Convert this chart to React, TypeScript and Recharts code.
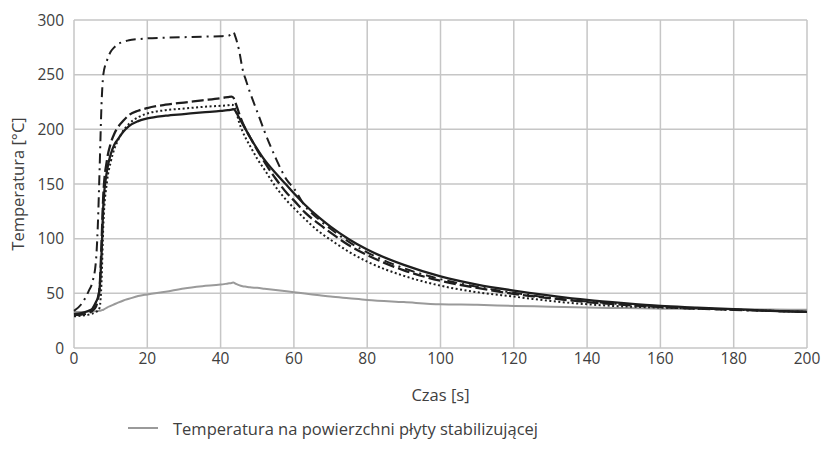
import React from "react";
import { LineChart, Line, XAxis, YAxis, CartesianGrid, Legend } from "recharts";

const time = [0, 2, 4, 5, 6, 6.5, 7, 7.5, 8, 9, 10, 11, 12, 13.5, 15, 17.5, 20, 25, 30, 35, 40, 42, 43, 43.5, 44, 45, 46, 47, 48, 50, 52, 55, 58, 60, 63, 67, 70, 75, 80, 90, 100, 110, 120, 130, 140, 150, 160, 170, 180, 190, 200];

const dashDot = [34, 40, 52, 60, 80, 112, 165, 222, 250, 263, 271, 275, 278, 280, 281.5, 282.5, 283.2, 283.8, 284.3, 284.8, 285.2, 285.5, 287.5, 289, 285, 273, 255, 244, 234, 216, 198, 174, 154, 146, 130, 117, 109, 97, 87.5, 73, 63, 56, 50.5, 46, 42.5, 40, 38, 36.5, 35, 34, 33];

const dashed = [30, 30.5, 32, 34, 38, 44, 56, 95, 140, 172, 187, 196, 202, 208, 213, 217, 219.5, 222.5, 224.5, 226.5, 228.5, 229.5, 230, 229, 225, 215, 206, 199, 193, 181, 170, 155, 142, 135, 124, 113, 105.5, 94, 85, 71, 61.5, 55, 49.5, 45.5, 42, 39.5, 37.5, 36, 35, 34, 33];

const dotted = [29, 29.5, 30.5, 31.5, 33, 34, 37, 60, 112, 152, 170, 182, 190, 199, 205, 211, 214.5, 217.5, 219, 220.5, 221.5, 222, 222.5, 222, 219, 207, 198, 191, 185, 173, 163, 147.5, 135, 128, 118, 106, 99, 88, 79, 66, 57, 51, 47, 43, 40, 38, 37, 36, 35, 34, 33];

const solid = [31, 32, 34, 36, 42, 46, 55, 85, 130, 162, 177, 186, 191, 198, 203, 207.5, 210, 212.5, 214, 215.5, 216.8, 217.5, 218, 218.5, 217, 211, 205, 199, 193, 182, 172, 160, 149, 141.5, 131, 119, 111, 99.5, 90, 76, 65.5, 58, 52.5, 48, 44, 41, 38.5, 37, 35.5, 34, 33];

const surface = [33, 33, 33.3, 33.5, 33.7, 33.8, 34, 34.5, 35, 37, 38.5, 40, 41.5, 43.5, 45, 47.5, 49, 51.5, 54.5, 56.5, 58, 59, 59.5, 59.8, 59, 57.5, 56.5, 56, 55.5, 55, 54.2, 53, 51.8, 51, 49.8, 48.2, 47, 45.5, 44, 42, 40, 39.5, 38.5, 37.8, 37, 36.5, 36, 35.7, 35.5, 35.2, 35];

const xTicks = [0, 20, 40, 60, 80, 100, 120, 140, 160, 180, 200];
const yTicks = [0, 50, 100, 150, 200, 250, 300];

const legendLabel = "Temperatura na powierzchni płyty stabilizującej";
const xTitle = "Czas [s]";
const yTitle = "Temperatura [°C]";

const data = time.map((t, i) => ({
  t,
  dashDot: dashDot[i],
  dashed: dashed[i],
  dotted: dotted[i],
  solid: solid[i],
  surface: surface[i],
}));

const FONT = "'Open Sans', Lato, sans-serif";
const FS = 16.5;
const TFS = 15.5;
const TEXT = "#404040";

const renderLegend = () => (
  <div
    style={{
      display: "flex",
      alignItems: "center",
      height: 24,
      fontFamily: FONT,
      fontSize: FS,
      color: TEXT,
      whiteSpace: "nowrap",
    }}
  >
    <svg width={30} height={6}>
      <line x1={0} y1={3} x2={30} y2={3} stroke="#9a9a9a" strokeWidth={2} />
    </svg>
    <span style={{ marginLeft: 15 }}>{legendLabel}</span>
  </div>
);

export default function App() {
  return (
    <div style={{ position: "fixed", left: 0, top: 0, width: 823, height: 459, background: "#fff" }}>
      <LineChart
        width={823}
        height={459}
        data={data}
        margin={{ top: 20, right: 16, bottom: 19, left: 0 }}
      >
        <CartesianGrid stroke="#c6c6c6" strokeWidth={1.5} />
        <XAxis
          dataKey="t"
          type="number"
          domain={[0, 200]}
          ticks={xTicks}
          interval={0}
          axisLine={false}
          tickLine={false}
          tickSize={4}
          tickMargin={1}
          height={68}
          tick={{ fill: TEXT, fontFamily: FONT, fontSize: TFS }}
          label={{
            value: xTitle,
            position: "insideBottom",
            offset: 15,
            fill: TEXT,
            fontFamily: FONT,
            fontSize: FS,
          }}
        />
        <YAxis
          type="number"
          domain={[0, 300]}
          ticks={yTicks}
          interval={0}
          axisLine={false}
          tickLine={false}
          tickSize={6}
          tickMargin={4}
          width={74}
          tick={{ fill: TEXT, fontFamily: FONT, fontSize: TFS }}
          label={{
            value: yTitle,
            angle: -90,
            position: "insideLeft",
            offset: 18,
            fill: TEXT,
            fontFamily: FONT,
            fontSize: FS,
            style: { textAnchor: "middle" },
          }}
        />
        <Legend
          verticalAlign="bottom"
          align="left"
          content={renderLegend}
          wrapperStyle={{ left: 128, width: "auto", height: 24 }}
        />
        <Line type="monotone" dataKey="surface" stroke="#9a9a9a" strokeWidth={2} dot={false} isAnimationActive={false} />
        <Line type="monotone" dataKey="dotted" stroke="#1e1e1e" strokeWidth={2} strokeDasharray="2 2.5" dot={false} legendType="none" isAnimationActive={false} />
        <Line type="monotone" dataKey="solid" stroke="#1e1e1e" strokeWidth={2.3} dot={false} legendType="none" isAnimationActive={false} />
        <Line type="monotone" dataKey="dashed" stroke="#1e1e1e" strokeWidth={2.3} strokeDasharray="12 4" dot={false} legendType="none" isAnimationActive={false} />
        <Line type="monotone" dataKey="dashDot" stroke="#1e1e1e" strokeWidth={2} strokeDasharray="10 5 2 5" dot={false} legendType="none" isAnimationActive={false} />
      </LineChart>
    </div>
  );
}
